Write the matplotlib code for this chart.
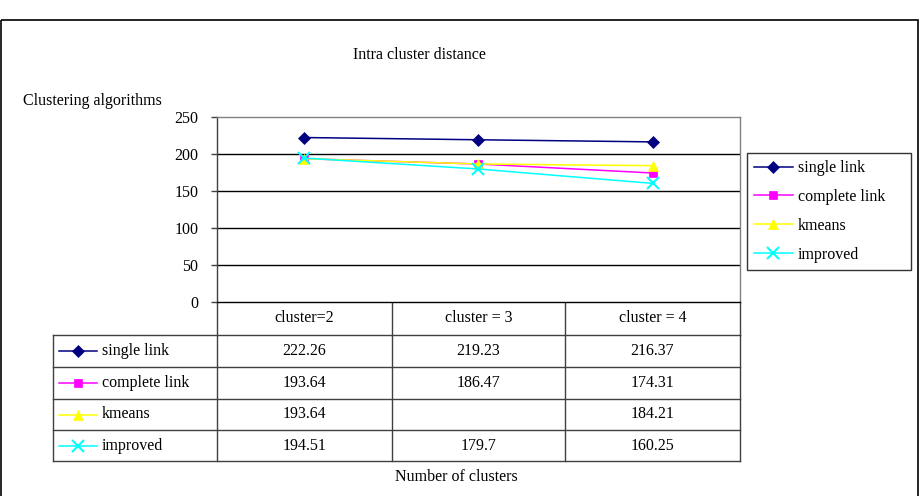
import matplotlib.pyplot as plt
from matplotlib.patches import Rectangle

plt.rcParams['font.family'] = ['Liberation Serif', 'DejaVu Serif']

# data
categories = ["cluster=2", "cluster = 3", "cluster = 4"]
series_names = ["single link", "complete link", "kmeans", "improved"]
single_link = [222.26, 219.23, 216.37]
complete_link = [193.64, 186.47, 174.31]
kmeans = [193.64, 186.5, 184.21]          # middle value; blank in the table
improved = [194.51, 179.7, 160.25]
table_text = [
    ["222.26", "219.23", "216.37"],
    ["193.64", "186.47", "174.31"],
    ["193.64", "", "184.21"],
    ["194.51", "179.7", "160.25"],
]
y_ticks = [0, 50, 100, 150, 200, 250]

colors = ["#000080", "#FF00FF", "#FFFF00", "#00FFFF"]
markers = ["D", "s", "^", "x"]
msizes = [6, 6, 7, 8]

W, H = 923, 496
FS = 11.5

fig = plt.figure(figsize=(W / 100, H / 100), dpi=100)

# plot area in pixels
px_left, px_right, px_top, px_bot = 217, 740, 117, 302
ax = fig.add_axes([px_left / W, 1 - px_bot / H, (px_right - px_left) / W, (px_bot - px_top) / H])

all_series = [single_link, complete_link, kmeans, improved]
xs = list(range(len(categories)))
for vals, name, c, m, ms in zip(all_series, series_names, colors, markers, msizes):
    ax.plot(xs, vals, color=c, marker=m, markersize=ms, lw=1.1, label=name,
            markeredgewidth=1.5 if m == "x" else 0.5, zorder=3)

ax.set_xlim(-0.5, len(categories) - 0.5)
ax.set_ylim(0, 250)
ax.set_yticks(y_ticks)
ax.set_yticklabels([str(t) for t in y_ticks], fontsize=FS)
ax.set_xticks([])
for t in y_ticks[1:-1]:
    ax.axhline(t, color="black", lw=1, zorder=1)
ax.tick_params(axis="y", length=4.5, width=1, color="#404040", pad=9)
ax.spines["left"].set_color("#404040")
ax.spines["bottom"].set_color("black")
ax.spines["top"].set_color("#808080")
ax.spines["right"].set_color("#808080")
for s in ax.spines.values():
    s.set_linewidth(1)

leg = ax.legend(loc="upper left", bbox_to_anchor=(747 / W, 1 - 273 / H, (911 - 747) / W, (273 - 153) / H),
                bbox_transform=fig.transFigure, mode="expand", frameon=True, fancybox=False,
                fontsize=FS, handlelength=2.4, handletextpad=0.35, labelspacing=0.8,
                borderpad=0.45, borderaxespad=0)
leg.get_frame().set_edgecolor("black")
leg.get_frame().set_linewidth(1)

# overlay in pixel coordinates for frame, titles and data table
ov = fig.add_axes([0, 0, 1, 1], zorder=-1)
ov.set_xlim(0, W)
ov.set_ylim(H, 0)
ov.axis("off")

ov.add_patch(Rectangle((1, 20), 917, 500, fill=False, edgecolor="black", lw=1.2, clip_on=False))
ov.text(419, 55, "Intra cluster distance", ha="center", va="center", fontsize=FS)
ov.text(23, 101, "Clustering algorithms", ha="left", va="center", fontsize=FS)
ov.text(456, 477, "Number of clusters", ha="center", va="center", fontsize=FS)

col_x = [53, 217, 392, 565, 740]
row_y = [302, 335, 367, 399, 430, 461]
line_kw = dict(color="#404040", lw=1)

# header row
for x in col_x[1:]:
    ov.plot([x, x], [row_y[0], row_y[1]], **line_kw)
for j, cat in enumerate(categories):
    ov.text((col_x[j + 1] + col_x[j + 2]) / 2, (row_y[0] + row_y[1]) / 2, cat,
            ha="center", va="center", fontsize=FS)

# body
for y in row_y[1:]:
    ov.plot([col_x[0], col_x[-1]], [y, y], **line_kw)
for x in col_x:
    ov.plot([x, x], [row_y[1], row_y[-1]], **line_kw)
for i, name in enumerate(series_names):
    yc = (row_y[i + 1] + row_y[i + 2]) / 2
    ov.plot([59, 97], [yc, yc], color=colors[i], lw=1.1)
    ov.plot([78], [yc], color=colors[i], marker=markers[i], markersize=msizes[i],
            markeredgewidth=1.5 if markers[i] == "x" else 0.5)
    ov.text(102, yc, name, ha="left", va="center", fontsize=FS)
    for j, txt in enumerate(table_text[i]):
        ov.text((col_x[j + 1] + col_x[j + 2]) / 2, yc, txt, ha="center", va="center", fontsize=FS)

fig.savefig("out.png", dpi=100)
